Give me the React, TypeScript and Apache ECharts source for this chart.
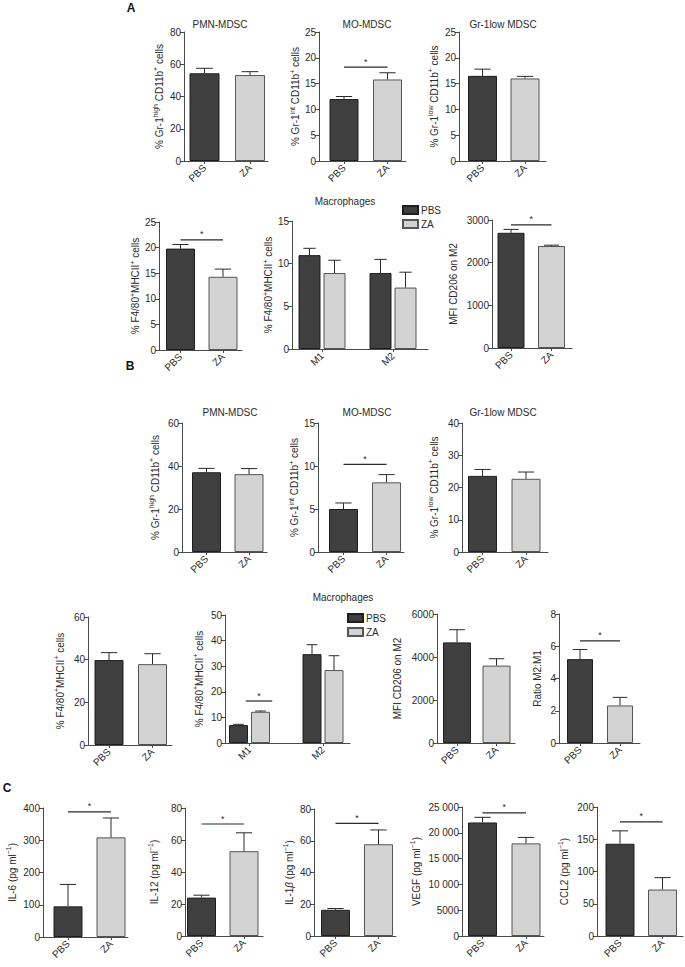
import React, { useEffect, useRef } from 'react';
import * as echarts from 'echarts';

// ---------- categories ----------
const pbsZa = ['PBS', 'ZA'];
const m1m2 = ['M1', 'M2'];

// ---------- Panel A ----------
const aPmnMean = [54.4, 53.3];
const aPmnErr = [57.5, 55.4];
const aMoMean = [12.0, 15.8];
const aMoErr = [12.5, 17.1];
const aMoSig = 18.2;
const aGrMean = [16.5, 16.0];
const aGrErr = [17.8, 16.4];
const aMacMean = [19.8, 14.3];
const aMacErr = [20.6, 15.8];
const aMacSig = 21.5;
const aM12PbsMean = [11.0, 8.9];
const aM12PbsErr = [11.8, 10.5];
const aM12ZaMean = [8.9, 7.2];
const aM12ZaErr = [10.4, 9.0];
const aMfiMean = [2700, 2390];
const aMfiErr = [2780, 2410];
const aMfiSig = 2884;

// ---------- Panel B ----------
const bPmnMean = [37.1, 36.2];
const bPmnErr = [38.9, 38.8];
const bMoMean = [5.0, 8.1];
const bMoErr = [5.7, 9.0];
const bMoSig = 10.2;
const bGrMean = [23.6, 22.7];
const bGrErr = [25.6, 24.8];
const bMacMean = [39.8, 37.9];
const bMacErr = [43.3, 42.8];
const bM12PbsMean = [7.0, 34.7];
const bM12PbsErr = [7.3, 38.4];
const bM12ZaMean = [12.2, 28.5];
const bM12ZaErr = [12.5, 34.1];
const bM12Sig = 16.4;
const bMfiMean = [4680, 3600];
const bMfiErr = [5270, 3920];
const bRatioMean = [5.2, 2.33];
const bRatioErr = [5.8, 2.83];
const bRatioSig = 6.33;

// ---------- Panel C ----------
const cIl6Mean = [95, 309];
const cIl6Err = [163, 369];
const cIl6Sig = 388;
const cIl12Mean = [24, 53];
const cIl12Err = [25.5, 64.5];
const cIl12Sig = 70;
const cIl1bMean = [16.5, 57.8];
const cIl1bErr = [17.3, 66.8];
const cIl1bSig = 71;
const cVegfMean = [22000, 17950];
const cVegfErr = [23000, 19100];
const cVegfSig = 23850;
const cCcl2Mean = [143, 72];
const cCcl2Err = [163, 90.5];
const cCcl2Sig = 177;

// ---------- style ----------
const FONT = 'Liberation Sans, Arial, Helvetica, sans-serif';
const INK = '#2b2b2b';
const AXIS = '#4a4a4a';
const PBS_FILL = '#3f3f3f';
const ZA_FILL = '#d3d3d3';

const S = (t: string) => `{s|${t}}`;
const B = (t: string) => `{b|${t}}`;
const nameGrHigh = B('% Gr-1') + S('high') + B(' CD11b') + S('+') + B(' cells');
const nameGrInt = B('% Gr-1') + S('int') + B(' CD11b') + S('+') + B(' cells');
const nameGrLow = B('% Gr-1') + S('low') + B(' CD11b') + S('+') + B(' cells');
const nameF480 = B('% F4/80') + S('+') + B('MHCII') + S('+') + B(' cells');
const nameMfi = B('MFI CD206 on M2');
const nameRatio = B('Ratio M2:M1');
const pgml = B(' (pg ml') + S('−1') + B(')');
const nameIl6 = B('IL-6') + pgml;
const nameIl12 = B('IL-12') + pgml;
const nameIl1b = B('IL-1') + '{i|β}' + pgml;
const nameVegf = B('VEGF') + pgml;
const nameCcl2 = B('CCL2') + pgml;

type Plot = {
  ax: number; end: number; top: number; bot: number; c1: number; c2: number;
  bw: number; gapPx?: number; max: number; interval: number;
  name: string; nameGap: number; cats: string[];
  grouped?: boolean;
  mean?: number[]; err?: number[];
  pbsMean?: number[]; pbsErr?: number[]; zaMean?: number[]; zaErr?: number[];
  sig?: number[];
  fmt?: (v: number) => string;
};

const plainFmt = (v: number) => String(v);
const vegfFmt = (v: number) => (v >= 10000 ? `${Math.floor(v / 1000)} ${String(v % 1000).padStart(3, '0')}` : String(v));

const plots: Plot[] = [
  // A row 1
  { ax: 184, end: 268, top: 32, bot: 161, c1: 204.5, c2: 250, bw: 30, max: 80, interval: 20, name: nameGrHigh, nameGap: 20, cats: pbsZa, mean: aPmnMean, err: aPmnErr },
  { ax: 319, end: 406, top: 32, bot: 161, c1: 344, c2: 387.5, bw: 29, max: 25, interval: 5, name: nameGrInt, nameGap: 14, cats: pbsZa, mean: aMoMean, err: aMoErr, sig: [0, 1, aMoSig] },
  { ax: 459, end: 546, top: 32, bot: 161, c1: 482.5, c2: 525, bw: 29, max: 25, interval: 5, name: nameGrLow, nameGap: 20, cats: pbsZa, mean: aGrMean, err: aGrErr },
  // A row 2
  { ax: 159, end: 242, top: 222, bot: 350, c1: 180.5, c2: 223, bw: 29, max: 25, interval: 5, name: nameF480, nameGap: 14, cats: pbsZa, mean: aMacMean, err: aMacErr, sig: [0, 1, aMacSig] },
  { ax: 292, end: 428, top: 221, bot: 349, c1: 322, c2: 393, bw: 22, gapPx: 3, max: 15, interval: 5, name: nameF480, nameGap: 18, cats: m1m2, grouped: true, pbsMean: aM12PbsMean, pbsErr: aM12PbsErr, zaMean: aM12ZaMean, zaErr: aM12ZaErr },
  { ax: 492, end: 572, top: 220, bot: 348, c1: 511, c2: 551.5, bw: 27, max: 3000, interval: 1000, name: nameMfi, nameGap: 34, cats: pbsZa, mean: aMfiMean, err: aMfiErr, sig: [0, 1, aMfiSig] },
  // B row 1
  { ax: 182, end: 267, top: 423, bot: 552, c1: 206.5, c2: 249, bw: 29, max: 60, interval: 20, name: nameGrHigh, nameGap: 22, cats: pbsZa, mean: bPmnMean, err: bPmnErr },
  { ax: 318, end: 404, top: 423, bot: 552, c1: 343.5, c2: 386.5, bw: 29, max: 15, interval: 5, name: nameGrInt, nameGap: 18, cats: pbsZa, mean: bMoMean, err: bMoErr, sig: [0, 1, bMoSig] },
  { ax: 462, end: 548, top: 423, bot: 552, c1: 482.5, c2: 526, bw: 29, max: 40, interval: 10, name: nameGrLow, nameGap: 23, cats: pbsZa, mean: bGrMean, err: bGrErr },
  // B row 2
  { ax: 88, end: 172, top: 617, bot: 745, c1: 109, c2: 152.5, bw: 29, max: 60, interval: 20, name: nameF480, nameGap: 23, cats: pbsZa, mean: bMacMean, err: bMacErr },
  { ax: 225, end: 350, top: 615, bot: 743, c1: 249.5, c2: 323, bw: 19, gapPx: 3, max: 50, interval: 10, name: nameF480, nameGap: 21, cats: m1m2, grouped: true, pbsMean: bM12PbsMean, pbsErr: bM12PbsErr, zaMean: bM12ZaMean, zaErr: bM12ZaErr, sig: [-0.05, 0.31, bM12Sig] },
  { ax: 437, end: 515, top: 614, bot: 743, c1: 457, c2: 496.5, bw: 28, max: 6000, interval: 2000, name: nameMfi, nameGap: 35, cats: pbsZa, mean: bMfiMean, err: bMfiErr },
  { ax: 559, end: 640, top: 614, bot: 743, c1: 580, c2: 620, bw: 26, max: 8, interval: 2, name: nameRatio, nameGap: 17, cats: pbsZa, mean: bRatioMean, err: bRatioErr, sig: [0, 1, bRatioSig] },
  // C
  { ax: 43, end: 128, top: 808, bot: 937, c1: 68, c2: 111, bw: 29, max: 400, interval: 100, name: nameIl6, nameGap: 26, cats: pbsZa, mean: cIl6Mean, err: cIl6Err, sig: [0, 1, cIl6Sig] },
  { ax: 185, end: 263, top: 808, bot: 936, c1: 201.5, c2: 244, bw: 29, max: 80, interval: 20, name: nameIl12, nameGap: 26, cats: pbsZa, mean: cIl12Mean, err: cIl12Err, sig: [0, 1, cIl12Sig] },
  { ax: 314, end: 396, top: 809, bot: 936, c1: 335.5, c2: 378.5, bw: 29, max: 80, interval: 20, name: nameIl1b, nameGap: 20, cats: pbsZa, mean: cIl1bMean, err: cIl1bErr, sig: [0, 1, cIl1bSig] },
  { ax: 462, end: 544, top: 807, bot: 936, c1: 482.5, c2: 526, bw: 29, max: 25000, interval: 5000, name: nameVegf, nameGap: 41, cats: pbsZa, mean: cVegfMean, err: cVegfErr, sig: [0, 1, cVegfSig], fmt: vegfFmt },
  { ax: 597, end: 683, top: 807, bot: 936, c1: 620, c2: 662.5, bw: 29, max: 200, interval: 50, name: nameCcl2, nameGap: 28, cats: pbsZa, mean: cCcl2Mean, err: cCcl2Err, sig: [0, 1, cCcl2Sig] },
];

const titles = [
  { t: 'PMN-MDSC', x: 220, y: 24 },
  { t: 'MO-MDSC', x: 367, y: 24 },
  { t: 'Gr-1low MDSC', x: 503, y: 24 },
  { t: 'Macrophages', x: 345, y: 201 },
  { t: 'PMN-MDSC', x: 230, y: 412 },
  { t: 'MO-MDSC', x: 367, y: 412 },
  { t: 'Gr-1low MDSC', x: 503, y: 412 },
  { t: 'Macrophages', x: 343, y: 597 },
];
const letters = [
  { t: 'A', x: 131, y: 8 },
  { t: 'B', x: 130, y: 366 },
  { t: 'C', x: 7, y: 788 },
];

const rich = {
  b: { fontSize: 10, lineHeight: 12, verticalAlign: 'bottom', fontFamily: FONT, color: INK },
  s: { fontSize: 7, lineHeight: 8, verticalAlign: 'top', fontFamily: FONT, color: INK },
  i: { fontSize: 10, lineHeight: 12, verticalAlign: 'bottom', fontStyle: 'italic', fontFamily: FONT, color: INK },
};

function buildOption() {
  const grid: any[] = [];
  const xAxis: any[] = [];
  const yAxis: any[] = [];
  const series: any[] = [];
  const pbsStyle = { color: PBS_FILL, borderColor: '#1e1e1e', borderWidth: 1 };
  const zaStyle = { color: ZA_FILL, borderColor: '#555', borderWidth: 1 };

  plots.forEach((p, i) => {
    const unit = p.c2 - p.c1;
    const gi = 2 * i; // main grid
    const li = 2 * i + 1; // label grid (category axis, centres at c1/c2)
    grid.push({ left: p.ax, top: p.top, width: p.end - p.ax, height: p.bot - p.top });
    grid.push({ left: p.c1 - unit / 2, top: p.top, width: 2 * unit, height: p.bot - p.top });
    xAxis.push({
      type: 'value', gridIndex: gi,
      min: -(p.c1 - p.ax) / unit, max: 1 + (p.end - p.c2) / unit,
      axisLine: { show: true, onZero: false, lineStyle: { color: AXIS, width: 1 } },
      axisTick: { show: true, customValues: [0, 1], length: 3, lineStyle: { color: AXIS } },
      axisLabel: { show: false },
      splitLine: { show: false },
    });
    xAxis.push({
      type: 'category', gridIndex: li, data: p.cats,
      axisLine: { show: false }, axisTick: { show: false }, splitLine: { show: false },
      axisLabel: { show: true, rotate: 45, margin: 5, fontSize: 10, color: INK, fontFamily: FONT, interval: 0 },
    });
    yAxis.push({
      type: 'value', gridIndex: gi, min: 0, max: p.max, interval: p.interval,
      axisLine: { show: true, onZero: false, lineStyle: { color: AXIS, width: 1 } },
      axisTick: { show: true, length: 4, lineStyle: { color: AXIS } },
      axisLabel: { fontSize: 10, margin: 3, color: INK, fontFamily: FONT, formatter: p.fmt || plainFmt },
      splitLine: { show: false },
      name: p.name, nameLocation: 'middle', nameRotate: 90, nameGap: p.nameGap,
      nameTextStyle: { rich, fontFamily: FONT, fontSize: 10, color: INK },
    });
    yAxis.push({ type: 'value', gridIndex: li, show: false, min: 0, max: p.max });

    let errData: number[][] = [];
    if (p.grouped) {
      const off = (p.bw + (p.gapPx || 0)) / 2;
      const gap = `${((p.gapPx || 0) / p.bw) * 100}%`;
      series.push({ type: 'bar', name: 'PBS', xAxisIndex: gi, yAxisIndex: gi, barWidth: p.bw, barGap: gap, data: p.pbsMean!.map((v, k) => [k, v]), itemStyle: pbsStyle });
      series.push({ type: 'bar', name: 'ZA', xAxisIndex: gi, yAxisIndex: gi, barWidth: p.bw, barGap: gap, data: p.zaMean!.map((v, k) => [k, v]), itemStyle: zaStyle });
      errData = [
        ...p.pbsMean!.map((v, k) => [k, v, p.pbsErr![k], -off]),
        ...p.zaMean!.map((v, k) => [k, v, p.zaErr![k], off]),
      ];
    } else {
      series.push({ type: 'bar', name: 'PBS', xAxisIndex: gi, yAxisIndex: gi, barWidth: p.bw, barGap: '-100%', data: [[0, p.mean![0]]], itemStyle: pbsStyle });
      series.push({ type: 'bar', name: 'ZA', xAxisIndex: gi, yAxisIndex: gi, barWidth: p.bw, barGap: '-100%', data: [[1, p.mean![1]]], itemStyle: zaStyle });
      errData = [[0, p.mean![0], p.err![0], 0], [1, p.mean![1], p.err![1], 0]];
    }
    const cap = p.bw * 0.28;
    series.push({
      type: 'custom', name: 'err', xAxisIndex: gi, yAxisIndex: gi, z: 4,
      data: errData,
      renderItem: (_params: any, api: any) => {
        const x = api.value(0);
        const p0 = api.coord([x, api.value(1)]);
        const p1 = api.coord([x, api.value(2)]);
        const cx = p0[0] + api.value(3);
        return {
          type: 'group',
          children: [
            { type: 'line', shape: { x1: cx, y1: p0[1], x2: cx, y2: p1[1] }, style: { stroke: '#2a2a2a', lineWidth: 1 } },
            { type: 'line', shape: { x1: cx - cap, y1: p1[1], x2: cx + cap, y2: p1[1] }, style: { stroke: '#2a2a2a', lineWidth: 1 } },
          ],
        };
      },
    });
    if (p.sig) {
      series.push({
        type: 'custom', name: 'sig', xAxisIndex: gi, yAxisIndex: gi, z: 4,
        data: [p.sig],
        renderItem: (_params: any, api: any) => {
          const a = api.coord([api.value(0), api.value(2)]);
          const b = api.coord([api.value(1), api.value(2)]);
          return {
            type: 'group',
            children: [
              { type: 'line', shape: { x1: a[0], y1: a[1], x2: b[0], y2: b[1] }, style: { stroke: '#2a2a2a', lineWidth: 1.2 } },
              { type: 'text', x: (a[0] + b[0]) / 2, y: a[1] - 1, style: { text: '*', fontSize: 9, fill: INK, align: 'center', verticalAlign: 'bottom', fontFamily: FONT } },
            ],
          };
        },
      });
    }
  });

  const graphic: any[] = [
    ...titles.map((t) => ({ type: 'text', x: t.x, y: t.y, style: { text: t.t, fontSize: 10, fill: INK, fontFamily: FONT, align: 'center', verticalAlign: 'middle' } })),
    ...letters.map((t) => ({ type: 'text', x: t.x, y: t.y, style: { text: t.t, fontSize: 12, fontWeight: 'bold', fill: '#111', fontFamily: FONT, align: 'center', verticalAlign: 'middle' } })),
  ];

  const legendBase = {
    orient: 'vertical', itemWidth: 15, itemHeight: 8, itemGap: 4, icon: 'rect',
    data: ['PBS', 'ZA'], selectedMode: false,
    textStyle: { fontSize: 10, color: INK, fontFamily: FONT, padding: [0, 0, 0, -2] },
  };

  return {
    animation: false,
    backgroundColor: '#ffffff',
    grid, xAxis, yAxis, series, graphic,
    legend: [
      { ...legendBase, left: 397, top: 200 },
      { ...legendBase, left: 342, top: 608 },
    ],
  };
}

export default function App() {
  const ref = useRef<HTMLDivElement>(null);
  useEffect(() => {
    if (!ref.current) return;
    const chart = echarts.init(ref.current, undefined, { renderer: 'svg' });
    chart.setOption(buildOption() as any);
    return () => chart.dispose();
  }, []);
  return (
    <div
      ref={ref}
      style={{ position: 'absolute', left: 0, top: 0, width: 685, height: 967, background: '#fff' }}
    />
  );
}
